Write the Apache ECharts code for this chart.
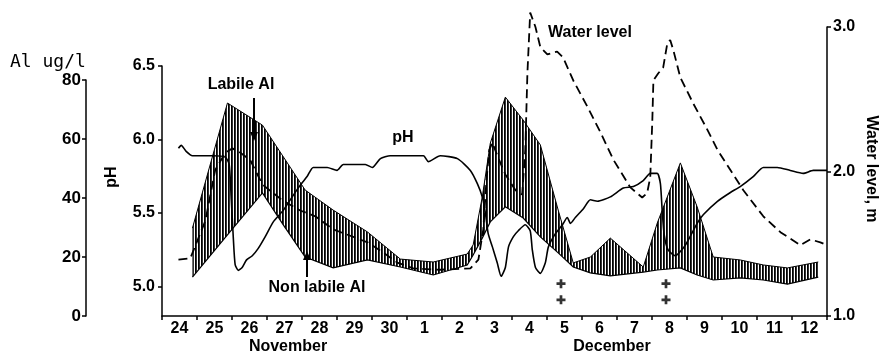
<!DOCTYPE html>
<html>
<head>
<meta charset="utf-8">
<script src="https://cdn.jsdelivr.net/npm/echarts@6.0.0/dist/echarts.min.js"></script>
<style>
html,body{margin:0;padding:0;background:#fff;}
#chart{width:881px;height:357px;}
</style>
</head>
<body>
<div id="chart"></div>
<script>
// one label per day, 24 Nov .. 12 Dec
var dayLabels = ['24','25','26','27','28','29','30','1','2','3','4','5','6','7','8','9','10','11','12'];

// Al band (ug/l), x = days from 24 Nov 00h
var alDays      = [0.87,1.87,2.87,3.47,4.09,4.89,5.87,6.81,7.75,8.72,8.89,9.15,9.38,9.81,10.32,10.81,11.32,11.75,12.24,12.81,13.75,14.15,14.81,15.29,15.75,16.52,17.18,17.87,18.75];
var alTotal     = [29.8,72.2,64.7,53.9,42.7,35.9,28.5,19.3,18.3,21.0,24.1,40.3,58.6,74.2,66.4,58.0,35.9,18.0,20.0,26.4,16.6,31.5,51.9,37.0,20.0,19.0,17.3,16.3,18.3];
var alNonLabile = [13.2,27.5,41.7,30.8,20.0,16.3,19.0,16.6,13.9,17.3,20.7,26.4,31.9,37.0,33.2,26.8,21.4,16.6,14.6,13.6,14.9,15.6,16.3,13.9,12.2,12.9,12.2,10.8,13.2];

// pH
var phDays   = [0.47,0.55,0.69,0.87,1.47,1.81,1.92,1.98,2.04,2.09,2.18,2.29,2.41,2.58,2.75,2.95,3.18,3.47,3.72,3.95,4.15,4.32,4.72,5.0,5.18,5.81,6.01,6.24,6.52,7.47,7.61,7.95,8.44,8.81,9.01,9.15,9.24,9.32,9.44,9.58,9.69,9.81,9.90,10.04,10.18,10.38,10.52,10.58,10.67,10.81,10.95,11.04,11.24,11.44,11.58,11.67,11.81,12.04,12.24,12.44,12.81,13.18,13.47,13.75,13.95,14.15,14.24,14.29,14.35,14.46,14.66,14.95,15.29,15.47,15.87,16.24,16.52,16.9,17.18,17.58,17.95,18.32,18.61,19.0];
var phValues = [5.94,5.96,5.92,5.89,5.89,5.88,5.83,5.59,5.32,5.15,5.11,5.13,5.18,5.21,5.26,5.34,5.44,5.52,5.61,5.69,5.75,5.81,5.81,5.79,5.83,5.83,5.81,5.87,5.89,5.89,5.85,5.89,5.87,5.79,5.70,5.61,5.50,5.36,5.27,5.16,5.07,5.13,5.27,5.34,5.38,5.42,5.38,5.25,5.13,5.09,5.16,5.27,5.36,5.42,5.47,5.43,5.47,5.53,5.59,5.58,5.61,5.67,5.68,5.72,5.77,5.77,5.70,5.52,5.35,5.25,5.21,5.28,5.43,5.49,5.58,5.64,5.68,5.75,5.81,5.81,5.79,5.77,5.79,5.79];

// water level (m)
var wlDays   = [0.47,0.81,1.24,1.52,1.81,2.01,2.24,2.52,2.87,3.44,3.95,4.38,4.89,5.87,6.32,6.72,7.18,7.95,8.81,9.04,9.18,9.27,9.35,9.44,9.58,9.81,10.1,10.29,10.38,10.44,10.52,10.67,10.81,11.01,11.29,11.46,11.75,12.15,12.53,12.9,13.38,13.72,13.86,13.95,14.01,14.04,14.18,14.32,14.44,14.52,14.61,14.81,15.18,15.58,15.87,16.24,16.61,17.18,17.67,18.24,18.52,18.81,19.0];
var wlValues = [1.39,1.40,1.66,2.01,2.13,2.16,2.13,2.08,1.91,1.80,1.73,1.69,1.60,1.51,1.44,1.37,1.33,1.32,1.33,1.39,1.60,1.94,2.15,2.20,2.11,1.98,1.87,1.84,2.15,2.68,3.10,3.00,2.86,2.81,2.83,2.79,2.63,2.45,2.27,2.08,1.89,1.82,1.85,1.96,2.36,2.63,2.68,2.72,2.89,2.91,2.84,2.65,2.47,2.29,2.15,2.01,1.87,1.69,1.58,1.49,1.53,1.51,1.49];

// "+" marks under 5 and 8 Dec
var markDays = [11.4, 14.4];
var markPh   = [5.02, 4.91];

function pairs(xs, ys){
  var out = [];
  for (var i = 0; i < xs.length; i++) out.push([xs[i], ys[i]]);
  return out;
}
var marks = [];
markDays.forEach(function(d){ markPh.forEach(function(p){ marks.push([d, p]); }); });

// vertical hatching
var hatch = document.createElement('canvas');
hatch.width = 3; hatch.height = 4;
var hc = hatch.getContext('2d');
hc.fillStyle = '#fff'; hc.fillRect(0, 0, 3, 4);
hc.fillStyle = '#000'; hc.fillRect(0, 0, 1, 4);
hc.fillStyle = '#333'; hc.fillRect(1, 0, 1, 4);

var FONT = '"Liberation Sans", Arial, sans-serif';
var black = '#000';
function axLine(){ return {show: true, onZero: false, lineStyle: {color: black, width: 1.5}}; }
function lbl(extra){
  var o = {color: black, fontWeight: 'bold', fontSize: 16, fontFamily: FONT};
  for (var k in extra) o[k] = extra[k];
  return o;
}

// hatched band between non labile Al and total Al
function renderBand(params, api){
  var top = alDays.map(function(d, i){ return api.coord([d, alTotal[i]]); });
  var bot = alDays.map(function(d, i){ return api.coord([d, alNonLabile[i]]); });
  var ring = top.concat(bot.slice().reverse());
  return {type: 'group', children: [
    {type: 'polygon', shape: {points: ring}, style: {fill: {image: hatch, repeat: 'repeat'}, stroke: null}},
    {type: 'polyline', shape: {points: top}, style: {stroke: black, lineWidth: 1, fill: null}},
    {type: 'polyline', shape: {points: bot}, style: {stroke: black, lineWidth: 1.2, fill: null}}
  ]};
}

var myChart = echarts.init(document.getElementById('chart'));
var option = {
  animation: false,
  backgroundColor: '#fff',
  grid: [
    {left: 162, right: 54, top: 66, bottom: 41, containLabel: false, outerBoundsMode: 'none'},
    {left: 162, right: 54, top: 80, bottom: 41, containLabel: false, outerBoundsMode: 'none'},
    {left: 162, right: 54, top: 27, bottom: 41, containLabel: false, outerBoundsMode: 'none'}
  ],
  xAxis: [
    {gridIndex: 0, type: 'value', min: 0, max: 19, interval: 1, z: 10,
      axisLine: axLine(), axisTick: {show: true, length: 4, lineStyle: {color: black, width: 1.5}},
      axisLabel: {show: false}, splitLine: {show: false}},
    {gridIndex: 0, type: 'category', data: dayLabels, boundaryGap: true, position: 'bottom',
      axisLine: {show: false}, axisTick: {show: false},
      axisLabel: lbl({interval: 0, margin: 5}), splitLine: {show: false}},
    {gridIndex: 1, type: 'value', min: 0, max: 19, show: false},
    {gridIndex: 2, type: 'value', min: 0, max: 19, show: false}
  ],
  yAxis: [
    {gridIndex: 0, type: 'value', min: 4.8, max: 6.5, position: 'left', z: 10,
      axisLine: axLine(),
      axisTick: {show: true, length: 4, customValues: [5, 5.5, 6, 6.5], lineStyle: {color: black, width: 1.5}},
      axisLabel: lbl({customValues: [5, 5.5, 6, 6.5], margin: 7, formatter: function(v){ return v.toFixed(1); }}),
      splitLine: {show: false}},
    {gridIndex: 1, type: 'value', min: 0, max: 80, interval: 20, position: 'left', offset: 76,
      axisLine: axLine(), axisTick: {show: true, length: 4, lineStyle: {color: black, width: 1.5}},
      axisLabel: lbl({fontSize: 17, margin: 5}), splitLine: {show: false}},
    {gridIndex: 2, type: 'value', min: 1, max: 3, interval: 1, position: 'right', z: 10,
      axisLine: axLine(), axisTick: {show: true, length: 4, lineStyle: {color: black, width: 1.5}},
      axisLabel: lbl({margin: 6, formatter: function(v){ return v.toFixed(1); }}),
      splitLine: {show: false}}
  ],
  series: [
    {name: 'Al', type: 'custom', coordinateSystem: 'cartesian2d', xAxisIndex: 2, yAxisIndex: 1,
      data: [[alDays[0], alTotal[0]]], encode: {x: 0, y: 1}, renderItem: renderBand, clip: false, z: 2},
    {name: 'pH', type: 'line', xAxisIndex: 0, yAxisIndex: 0, data: pairs(phDays, phValues),
      symbol: 'none', smooth: 0.2, clip: false, z: 4,
      lineStyle: {color: black, width: 1.6}},
    {name: 'Water level', type: 'line', xAxisIndex: 3, yAxisIndex: 2, data: pairs(wlDays, wlValues),
      symbol: 'none', clip: false, z: 4,
      lineStyle: {color: black, width: 1.8, type: [9, 5]}},
    {name: 'marks', type: 'scatter', xAxisIndex: 0, yAxisIndex: 0, data: marks,
      symbol: 'path://M3.5,0H6.5V3.5H10V6.5H6.5V10H3.5V6.5H0V3.5H3.5Z', symbolSize: 9,
      itemStyle: {color: black}, z: 5}
  ],
  graphic: [
    {type: 'text', left: 10, top: 53, style: {text: 'Al ug/l', font: '18px "DejaVu Sans Mono", monospace', fill: black}},
    {type: 'text', x: 112, y: 177, rotation: Math.PI / 2,
      style: {text: 'pH', font: 'bold 16px ' + FONT, fill: black, textAlign: 'center', textVerticalAlign: 'middle'}},
    {type: 'text', x: 871, y: 169, rotation: -Math.PI / 2,
      style: {text: 'Water level, m', font: 'bold 16px ' + FONT, fill: black, textAlign: 'center', textVerticalAlign: 'middle'}},
    {type: 'text', x: 288, y: 347,
      style: {text: 'November', font: 'bold 16px ' + FONT, fill: black, textAlign: 'center', textVerticalAlign: 'middle'}},
    {type: 'text', x: 612, y: 347,
      style: {text: 'December', font: 'bold 16px ' + FONT, fill: black, textAlign: 'center', textVerticalAlign: 'middle'}},
    {type: 'text', x: 241, y: 85,
      style: {text: 'Labile Al', font: 'bold 16px ' + FONT, fill: black, textAlign: 'center', textVerticalAlign: 'middle'}},
    {type: 'text', x: 317, y: 288,
      style: {text: 'Non labile Al', font: 'bold 16px ' + FONT, fill: black, textAlign: 'center', textVerticalAlign: 'middle'}},
    {type: 'text', x: 403, y: 138,
      style: {text: 'pH', font: 'bold 16px ' + FONT, fill: black, textAlign: 'center', textVerticalAlign: 'middle'}},
    {type: 'text', x: 590, y: 33,
      style: {text: 'Water level', font: 'bold 16px ' + FONT, fill: black, textAlign: 'center', textVerticalAlign: 'middle'}},
    // arrows
    {type: 'line', shape: {x1: 254, y1: 98, x2: 254, y2: 134}, style: {stroke: black, lineWidth: 2}, z: 10},
    {type: 'polygon', shape: {points: [[250, 132], [258, 132], [254, 141]]}, style: {fill: black}, z: 10},
    {type: 'line', shape: {x1: 307, y1: 277, x2: 307, y2: 258}, style: {stroke: black, lineWidth: 2}, z: 10},
    {type: 'polygon', shape: {points: [[303, 260], [311, 260], [307, 251]]}, style: {fill: black}, z: 10}
  ]
};
myChart.setOption(option);
window.addEventListener('resize', function () {
  myChart.resize();
});
</script>
</body>
</html>
